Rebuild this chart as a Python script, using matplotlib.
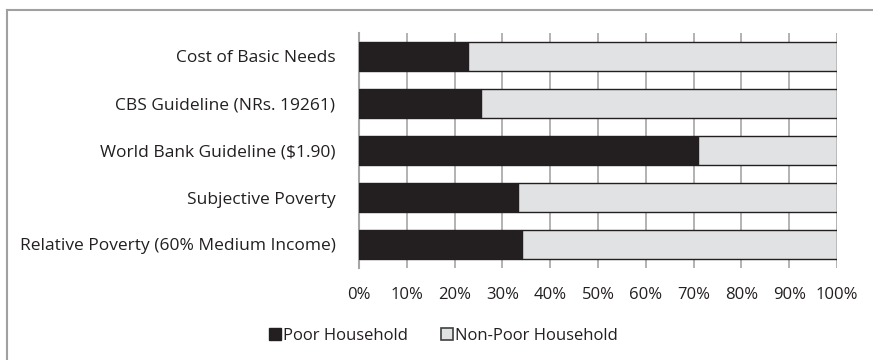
import matplotlib.pyplot as plt
from matplotlib.lines import Line2D
from matplotlib.ticker import PercentFormatter

plt.rcParams['font.family'] = ['Open Sans', 'DejaVu Sans']

categories = [
    "Cost of Basic Needs",
    "CBS Guideline (NRs. 19261)",
    "World Bank Guideline ($1.90)",
    "Subjective Poverty",
    "Relative Poverty (60% Medium Income)",
]
poor = [22.7, 25.6, 71.0, 33.2, 34.1]
non_poor = [100 - p for p in poor]

dark = "#231f20"
light = "#e1e2e3"
grid = "#a6a6a6"

fig = plt.figure(figsize=(8.73, 3.6), dpi=100)
ax = fig.add_axes([359 / 873, 1 - 268 / 360, 478 / 873, 235 / 360])

y = list(range(len(categories)))
ax.barh(y, poor, height=0.6, color=dark, edgecolor=dark, linewidth=1.0, zorder=3)
ax.barh(y, non_poor, left=poor, height=0.6, color=light, edgecolor=dark,
        linewidth=1.0, zorder=3)

ax.set_ylim(len(categories) - 0.5, -0.5)
ax.set_xlim(0, 100)
ax.set_yticks(y)
ax.set_yticklabels(categories, fontsize=12.5, color="#231f20")
ax.set_xticks(range(0, 101, 10))
ax.xaxis.set_major_formatter(PercentFormatter(decimals=0))
ax.tick_params(axis="x", labelsize=12, colors="#231f20", length=0, pad=14)
ax.tick_params(axis="y", length=0, pad=17)
ax.grid(axis="x", color=grid, linewidth=1.2, zorder=0)

for side in ["top", "right", "bottom"]:
    ax.spines[side].set_visible(False)
ax.spines["left"].set_color(grid)
ax.spines["left"].set_linewidth(1.5)

handles = [
    Line2D([], [], marker="s", linestyle="none", markersize=8.5,
           markerfacecolor=dark, markeredgecolor=dark),
    Line2D([], [], marker="s", linestyle="none", markersize=8.5,
           markerfacecolor=light, markeredgecolor="#404040", markeredgewidth=1.2),
]
fig.legend(handles, ["Poor Household", "Non-Poor Household"], loc="center",
           bbox_to_anchor=(443 / 873, 1 - 336 / 360), ncol=2, frameon=False,
           fontsize=12, handletextpad=0.1, columnspacing=1.9, handlelength=0.8,
           labelcolor="#231f20")

# outer chart border (only top and left visible in the crop)
fig.add_artist(Line2D([7 / 873, 1.0], [1 - 10 / 360] * 2, color="#a0a0a0",
                      linewidth=1.5, transform=fig.transFigure))
fig.add_artist(Line2D([7 / 873] * 2, [0.0, 1 - 10 / 360], color="#a0a0a0",
                      linewidth=1.5, transform=fig.transFigure))

fig.savefig("out.png", dpi=100)
